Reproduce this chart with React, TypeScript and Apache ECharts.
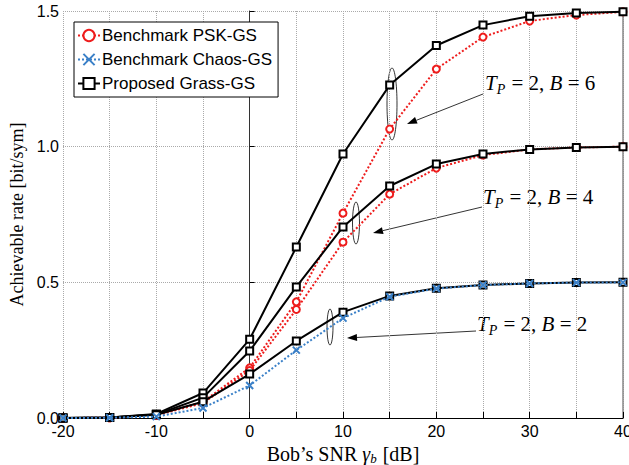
import React, { useEffect, useRef } from "react";
import * as echarts from "echarts";

const snr = [-20, -15, -10, -5, 0, 5, 10, 15, 20, 25, 30, 35, 40];
const pskB6 = [0, 0.001, 0.01, 0.06, 0.185, 0.428, 0.755, 1.065, 1.286, 1.404, 1.463, 1.485, 1.497];
const pskB4 = [0, 0.001, 0.01, 0.055, 0.175, 0.4, 0.648, 0.825, 0.921, 0.969, 0.99, 0.997, 1.0];
const chaosB2 = [0, 0.001, 0.005, 0.037, 0.12, 0.25, 0.368, 0.447, 0.477, 0.49, 0.496, 0.499, 0.5];
const propB6 = [0, 0.002, 0.015, 0.092, 0.29, 0.63, 0.973, 1.227, 1.373, 1.448, 1.481, 1.493, 1.497];
const propB4 = [0, 0.002, 0.013, 0.075, 0.247, 0.483, 0.704, 0.855, 0.936, 0.973, 0.99, 0.997, 1.0];
const propB2 = [0, 0.002, 0.012, 0.06, 0.162, 0.284, 0.39, 0.45, 0.478, 0.49, 0.496, 0.499, 0.5];

const legendNames = ["Benchmark PSK-GS", "Benchmark Chaos-GS", "Proposed Grass-GS"];
const annotations = [
  { label: "6", ellipse: [392, 104, 5, 36], arrow: [483, 94, 407, 124], text: [485, 83] },
  { label: "4", ellipse: [356, 223, 3.5, 21], arrow: [482, 207, 373, 233], text: [483, 197] },
  { label: "2", ellipse: [330, 327, 3, 18], arrow: [476, 331, 347, 338], text: [477, 324] },
];

const RED = "#ee1c1c";
const BLUE = "#3a80c8";
const SANS = "'Liberation Sans', Arial, sans-serif";
const SERIF = "'Liberation Serif', 'Times New Roman', serif";

const pair = (ys: number[]) => snr.map((x, i) => [x, ys[i]]);

function arrow(x1: number, y1: number, x2: number, y2: number) {
  const ang = Math.atan2(y2 - y1, x2 - x1);
  const L = 10, W = 3.5;
  const bx = x2 - L * Math.cos(ang), by = y2 - L * Math.sin(ang);
  const px = -Math.sin(ang) * W, py = Math.cos(ang) * W;
  return [
    { type: "line", shape: { x1, y1, x2: bx, y2: by }, style: { stroke: "#000", lineWidth: 0.8 } },
    {
      type: "polygon",
      shape: { points: [[x2, y2], [bx + px, by + py], [bx - px, by - py]] },
      style: { fill: "#000" },
    },
  ];
}

export default function App() {
  const ref = useRef<HTMLDivElement>(null);
  useEffect(() => {
    const chart = echarts.init(ref.current!, null, { renderer: "svg" });
    const redSeries = (name: string, data: number[]) => ({
      name, type: "line", data: pair(data), symbol: "emptyCircle", symbolSize: 7,
      color: RED, lineStyle: { color: RED, width: 2, type: "dotted" },
      itemStyle: { color: RED, borderColor: RED, borderWidth: 2 }, z: 2,
    });
    const blackSeries = (name: string, data: number[]) => ({
      name, type: "line", data: pair(data), symbol: "emptyRect", symbolSize: 7,
      color: "#000", lineStyle: { color: "#000", width: 2 },
      itemStyle: { color: "#000", borderColor: "#000", borderWidth: 2 }, z: 3,
    });
    const graphic: any[] = [];
    annotations.forEach((a) => {
      graphic.push({
        type: "ellipse",
        shape: { cx: a.ellipse[0], cy: a.ellipse[1], rx: a.ellipse[2], ry: a.ellipse[3] },
        style: { fill: "none", stroke: "#000", lineWidth: 0.8 },
      });
      graphic.push(...arrow(a.arrow[0], a.arrow[1], a.arrow[2], a.arrow[3]));
      graphic.push({
        type: "text", x: a.text[0], y: a.text[1],
        style: {
          text: `{i|T}{s|P}{n| = 2, }{i|B}{n| = ${a.label}}`,
          verticalAlign: "middle",
          rich: {
            i: { fontFamily: SERIF, fontStyle: "italic", fontSize: 21, fill: "#000" },
            s: { fontFamily: SERIF, fontStyle: "italic", fontSize: 14, fill: "#000", verticalAlign: "bottom", padding: [12, 1, 0, 0] },
            n: { fontFamily: SERIF, fontSize: 21, fill: "#000" },
          },
        },
      });
    });
    chart.setOption({
      animation: false,
      backgroundColor: "#fff",
      grid: { left: 63, right: 6, top: 11, bottom: 47, outerBoundsMode: "none", containLabel: false },
      legend: {
        data: legendNames, orient: "vertical", left: 74, top: 22,
        padding: [5, 6, 5, 3], itemGap: 7, itemWidth: 22, itemHeight: 14,
        borderColor: "#000", borderWidth: 1, backgroundColor: "#fff",
        textStyle: { fontFamily: SANS, fontSize: 17, color: "#000", padding: [0, 0, 0, -3] },
      },
      xAxis: {
        type: "value", min: -20, max: 40, interval: 5,
        name: "{n|Bob’s SNR }{g|γ}{s|b}{n| [dB]}", nameLocation: "middle", nameGap: 23,
        nameTextStyle: {
          rich: {
            n: { fontFamily: SERIF, fontSize: 20, color: "#000" },
            g: { fontFamily: SERIF, fontStyle: "italic", fontSize: 20, color: "#000" },
            s: { fontFamily: SERIF, fontStyle: "italic", fontSize: 13, color: "#000", verticalAlign: "bottom", padding: [10, 1, 0, 0] },
          },
        },
        axisLine: { lineStyle: { color: "#000", width: 1 } },
        axisTick: { inside: true, length: 6, lineStyle: { color: "#000" } },
        axisLabel: {
          formatter: (v: number) => (v % 10 === 0 ? String(v) : ""),
          fontFamily: SANS, fontSize: 16, color: "#000", margin: 5,
        },
        splitLine: { show: true, lineStyle: { color: "#aaa", type: "dotted", width: 1 } },
      },
      yAxis: [
        {
          type: "value", min: 0, max: 1.5, interval: 0.5,
          name: "Achievable rate [bit/sym]", nameLocation: "middle", nameGap: 29,
          nameTextStyle: { fontFamily: SERIF, fontSize: 18, color: "#000" },
          axisLine: { show: true, lineStyle: { color: "#333", width: 1 } },
          axisTick: { show: true, inside: true, length: 5, lineStyle: { color: "#000" } },
          axisLabel: { formatter: (v: number) => v.toFixed(1), fontFamily: SANS, fontSize: 16, color: "#000", margin: 4 },
          splitLine: { show: true, lineStyle: { color: "#aaa", type: "dotted", width: 1 } },
        },
        {
          type: "value", min: 0, max: 1.5, interval: 0.5, position: "right",
          axisLine: { show: true, lineStyle: { color: "#888", width: 1.5 } },
          axisTick: { show: false }, axisLabel: { show: false }, splitLine: { show: false },
        },
      ],
      series: [
        redSeries(legendNames[0], pskB6),
        redSeries(legendNames[0], pskB4),
        blackSeries(legendNames[2], propB6),
        blackSeries(legendNames[2], propB4),
        blackSeries(legendNames[2], propB2),
        {
          name: legendNames[1], type: "line", data: pair(chaosB2),
          symbol: "path://M0,0L10,10M10,0L0,10", symbolSize: 7,
          color: BLUE, lineStyle: { color: BLUE, width: 2, type: "dotted" },
          itemStyle: { color: BLUE, borderColor: BLUE, borderWidth: 2 }, z: 4,
        },
      ],
      graphic,
    });
    return () => chart.dispose();
  }, []);
  return <div ref={ref} style={{ position: "fixed", left: 0, top: 0, width: 629, height: 465 }} />;
}
